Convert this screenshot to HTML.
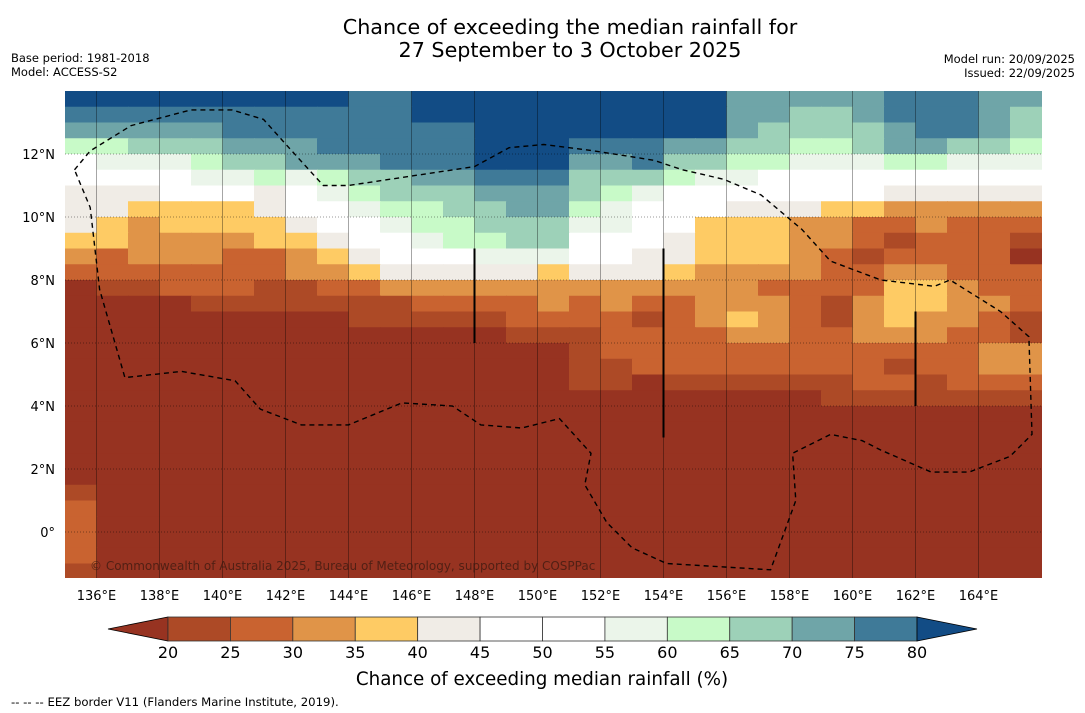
<!DOCTYPE html>
<html><head><meta charset="utf-8"><style>
body{margin:0;background:#fff;font-family:"DejaVu Sans","Liberation Sans",sans-serif}
svg{display:block;font-family:"DejaVu Sans","Liberation Sans",sans-serif}
</style></head><body>
<svg id="c" width="1085" height="713" xmlns="http://www.w3.org/2000/svg">
<text x="570" y="34" font-size="20.7" text-anchor="middle">Chance of exceeding the median rainfall for</text>
<text x="570" y="57" font-size="20.7" text-anchor="middle">27 September to 3 October 2025</text>
<text x="11" y="62" font-size="11.5">Base period: 1981-2018</text>
<text x="11" y="76" font-size="11.5">Model: ACCESS-S2</text>
<text x="1075" y="63" font-size="11.5" text-anchor="end">Model run: 20/09/2025</text>
<text x="1075" y="77" font-size="11.5" text-anchor="end">Issued: 22/09/2025</text>
<defs><clipPath id="mapclip"><rect x="65" y="91" width="977" height="487"/></clipPath></defs>
<g id="map" clip-path="url(#mapclip)"></g>
<g id="axes"></g>
<g id="cbar"></g>
<text x="542" y="685" font-size="18.3" text-anchor="middle">Chance of exceeding median rainfall (%)</text>
<text x="11" y="706" font-size="11.7">--  --  -- EEZ border V11 (Flanders Marine Institute, 2019).</text>
</svg>
<script>
const lons=[135,136,137,138,139,140,141,142,143,144,145,146,147,148,149,150,151,152,153,154,155,156,157,158,159,160,161,162,163,164,165];
const lats=[13.75,13.25,12.75,12.25,11.75,11.25,10.75,10.25,9.75,9.25,8.75,8.25,7.75,7.25,6.75,6.25,5.75,5.25,4.75,4.25,3.75,3.25,2.75,2.25,1.75,1.25,0.75,0.25,-0.25,-0.75,-1.25];
const grid=[
[85,85,85,85,85,85,85,85,85,78,78,85,85,85,85,85, 85,85,85,85,85,72,72,72,72,72,78,78,78,72,72],
[78,78,78,78,78,78,78,78,78,78,78,85,85,85,85,85, 85,85,85,85,85,72,72,65,65,72,78,78,78,72,65],
[72,72,72,72,72,78,78,78,78,78,78,78,78,85,85,85, 85,85,85,85,85,72,65,65,65,65,72,78,78,72,65],
[62,62,65,68,68,72,72,72,78,78,78,78,78,85,85,85, 78,78,78,72,72,65,65,62,62,65,72,72,65,65,62],
[52,57,57,57,62,65,68,72,72,72,78,78,78,85,85,85, 72,72,78,68,65,62,62,57,57,57,62,62,57,57,57],
[50,50,50,52,57,57,62,57,62,65,68,72,72,78,78,78, 68,68,65,62,57,57,52,50,50,52,52,52,52,52,50],
[43,43,43,50,50,50,43,52,57,62,65,68,68,72,72,72, 65,62,57,52,50,50,50,50,50,50,43,43,43,43,43],
[43,43,38,38,38,38,43,50,52,57,62,62,65,68,72,72, 62,57,52,50,45,43,43,43,38,38,32,32,32,32,32],
[43,38,32,38,38,38,38,43,50,50,57,62,62,65,68,68, 57,57,50,50,38,38,38,33,33,28,28,32,28,28,28],
[38,38,32,32,32,32,38,38,43,50,50,57,62,62,65,65, 50,50,50,43,38,38,38,33,33,28,23,28,28,28,23],
[32,28,32,32,32,28,28,32,38,43,50,50,52,57,57,57, 50,45,43,43,38,38,38,33,28,23,28,28,28,28,18],
[28,28,28,28,28,28,28,32,32,38,43,43,43,43,43,38, 43,43,43,38,33,33,33,33,28,28,33,33,28,28,28],
[18,23,23,28,28,28,23,23,28,28,33,33,33,33,33,33, 33,33,33,33,33,33,28,28,28,28,38,38,33,28,28],
[18,18,18,18,23,23,23,23,23,23,23,28,28,28,28,33, 28,33,28,28,33,33,33,28,23,33,38,38,33,33,28],
[18,18,18,18,18,18,18,18,18,23,23,23,23,23,28,28, 28,28,23,28,33,38,33,28,23,33,38,33,33,28,23],
[18,18,18,18,18,18,18,18,18,18,18,18,18,18,23,23, 23,28,28,28,28,33,33,28,28,33,33,33,28,28,23],
[18,18,18,18,18,18,18,18,18,18,18,18,18,18,18,18, 23,28,28,28,28,28,28,28,28,28,28,28,28,33,33],
[18,18,18,18,18,18,18,18,18,18,18,18,18,18,18,18, 23,23,28,28,28,28,28,28,28,28,23,28,28,33,33],
[18,18,18,18,18,18,18,18,18,18,18,18,18,18,18,18, 23,23,18,23,23,23,23,23,23,28,28,23,28,28,28],
[18,18,18,18,18,18,18,18,18,18,18,18,18,18,18,18, 18,18,18,18,18,18,18,18,23,23,23,23,23,23,23],
[18,18,18,18,18,18,18,18,18,18,18,18,18,18,18,18, 18,18,18,18,18,18,18,18,18,18,18,18,18,18,18],
[18,18,18,18,18,18,18,18,18,18,18,18,18,18,18,18, 18,18,18,18,18,18,18,18,18,18,18,18,18,18,18],
[18,18,18,18,18,18,18,18,18,18,18,18,18,18,18,18, 18,18,18,18,18,18,18,18,18,18,18,18,18,18,18],
[18,18,18,18,18,18,18,18,18,18,18,18,18,18,18,18, 18,18,18,18,18,18,18,18,18,18,18,18,18,18,18],
[18,18,18,18,18,18,18,18,18,18,18,18,18,18,18,18, 18,18,18,18,18,18,18,18,18,18,18,18,18,18,18],
[23,18,18,18,18,18,18,18,18,18,18,18,18,18,18,18, 18,18,18,18,18,18,18,18,18,18,18,18,18,18,18],
[28,18,18,18,18,18,18,18,18,18,18,18,18,18,18,18, 18,18,18,18,18,18,18,18,18,18,18,18,18,18,18],
[28,18,18,18,18,18,18,18,18,18,18,18,18,18,18,18, 18,18,18,18,18,18,18,18,18,18,18,18,18,18,18],
[28,18,18,18,18,18,18,18,18,18,18,18,18,18,18,18, 18,18,18,18,18,18,18,18,18,18,18,18,18,18,18],
[28,18,18,18,18,18,18,18,18,18,18,18,18,18,18,18, 18,18,18,18,18,18,18,18,18,18,18,18,18,18,18],
[23,18,18,18,18,18,18,18,18,18,18,18,18,18,18,18, 18,18,18,18,18,18,18,18,18,18,18,18,18,18,18]];
const levels=[20,25,30,35,40,45,50,55,60,65,70,75,80];
const colors=["#973321","#ad4a26","#c96330","#e09448","#fecb64","#f0ece6","#ffffff","#ffffff","#ebf5ea","#c8fac8","#9dd1b8","#6fa5a8","#3f7a98","#124c85"];
const lonTicks=[136,138,140,142,144,146,148,150,152,154,156,158,160,162,164];
const latTicks=[12,10,8,6,4,2,0];
const eez=[[135.3,11.5],[135.8,12.1],[137.1,12.9],[139,13.4],[140.3,13.4],[141.3,13.1],[142.2,12.1],[143.2,11],[144,11],[148,11.6],[149.1,12.2],[150.2,12.3],[151.8,12.1],[153.7,11.8],[154.6,11.5],[155.9,11.2],[157.1,10.7],[158.4,9.6],[159.3,8.6],[160.9,8],[162.6,7.8],[163.1,8],[164.7,7],[165.6,6.2],[165.7,3.1],[165,2.4],[163.7,1.9],[162.5,1.9],[160.9,2.6],[160.3,2.9],[159.3,3.1],[158.1,2.5],[158.2,1],[157.4,-1.2],[154.1,-1],[153,-0.5],[152.2,0.3],[151.5,1.5],[151.7,2.5],[150.7,3.6],[149.5,3.3],[148.2,3.4],[147.3,4],[145.7,4.1],[144,3.4],[142.5,3.4],[141.2,3.9],[140.4,4.8],[138.7,5.1],[136.9,4.9],[136.1,7.7],[135.8,10.3],[135.3,11.5]];
const segs=[[148,9,6],[154,9,3],[162,7,4]];
const X=lon=>65+(lon-135)*31.5;
const Y=lat=>91+(14-lat)*31.5;
const NS="http://www.w3.org/2000/svg";
function mk(tag,attrs,parent){const e=document.createElementNS(NS,tag);for(const k in attrs)e.setAttribute(k,attrs[k]);parent.appendChild(e);return e;}
function colorFor(v){let i=0;while(i<levels.length&&v>=levels[i])i++;return colors[i];}
const map=document.getElementById('map');
grid.forEach((row,r)=>row.forEach((v,c)=>{
  const e=mk('rect',{x:X(lons[c]),y:Y(lats[r]+0.25),width:32.5,height:16.75,fill:colorFor(v)},map);
  
  
}));
lonTicks.forEach(l=>{const e=mk('line',{x1:X(l),x2:X(l),y1:91,y2:578,stroke:'#000','stroke-opacity':0.35,'stroke-width':1},map);
  });
latTicks.forEach(l=>{const e=mk('line',{x1:65,x2:1042,y1:Y(l),y2:Y(l),stroke:'#000','stroke-opacity':0.4,'stroke-width':1,'stroke-dasharray':'1,2'},map);
  });
const p=mk('path',{d:'M'+eez.map(q=>X(q[0]).toFixed(1)+','+Y(q[1]).toFixed(1)).join('L'),fill:'none',stroke:'#000','stroke-width':1.4,'stroke-dasharray':'5,4'},map);

segs.forEach(s=>{const e=mk('line',{x1:X(s[0]),x2:X(s[0]),y1:Y(s[1]),y2:Y(s[2]),stroke:'#000','stroke-width':2},map);
  });
const cp=mk('text',{x:90,y:570,'font-size':12,fill:'#3a1a10','fill-opacity':0.75},map);
cp.textContent='© Commonwealth of Australia 2025, Bureau of Meteorology, supported by COSPPac';

const axes=document.getElementById('axes');
lonTicks.forEach(l=>{const t=mk('text',{x:X(l),y:600,'font-size':13,'text-anchor':'middle'},axes);t.textContent=l+'°E';
  });
latTicks.forEach(l=>{const t=mk('text',{x:55,y:Y(l)+5,'font-size':13,'text-anchor':'end'},axes);t.textContent=l===0?'0°':l+'°N';
  });
const cb=document.getElementById('cbar');
const bx0=168,bw=(917-168)/12,by=617,bh=24;
const tl=mk('polygon',{points:`108,${by+bh/2} ${bx0},${by} ${bx0},${by+bh}`,fill:colors[0],stroke:'#000','stroke-width':0.8},cb);

for(let i=0;i<12;i++){const e=mk('rect',{x:bx0+i*bw,y:by,width:bw,height:bh,fill:colors[i+1],stroke:'#333','stroke-width':0.8},cb);
  }
const tr=mk('polygon',{points:`917,${by} 977,${by+bh/2} 917,${by+bh}`,fill:colors[13],stroke:'#000','stroke-width':0.8},cb);

levels.forEach((v,i)=>{const t=mk('text',{x:bx0+i*bw,y:658,'font-size':16,'text-anchor':'middle'},cb);t.textContent=v;
  });
</script>
</body></html>
